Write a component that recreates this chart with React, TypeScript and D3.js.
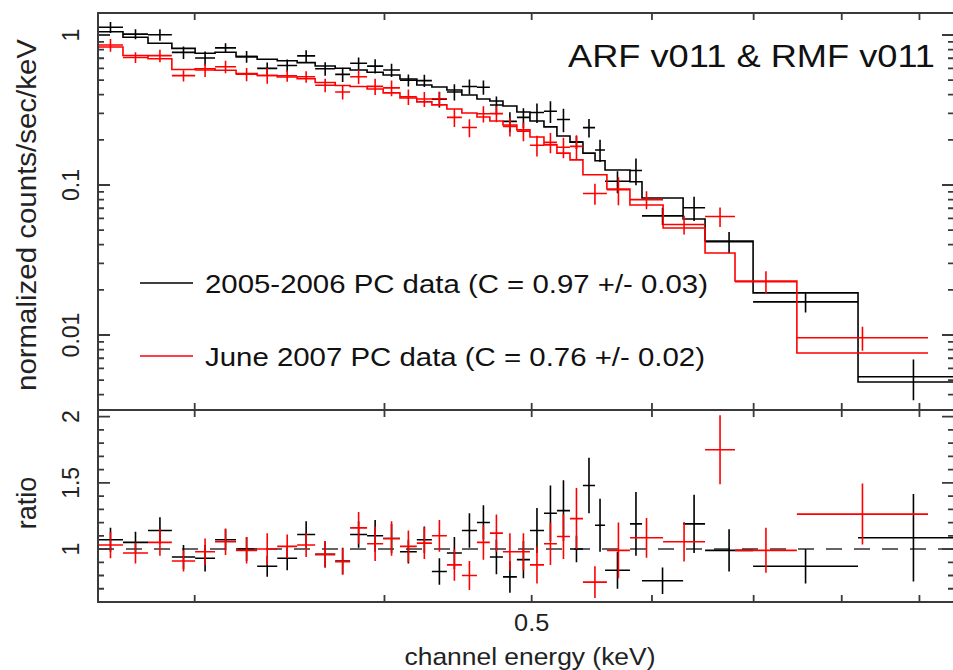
import React from 'react';
import * as d3 from 'd3';

const W = 953;
const H = 670;

// ---- data (energies in keV) ----
const blackEdges = [0.2591, 0.2691, 0.2795, 0.2898, 0.3002, 0.3094, 0.3194, 0.3298, 0.34, 0.3504, 0.3601, 0.3712, 0.3797, 0.3896, 0.3992, 0.4095, 0.4201, 0.4298, 0.4397, 0.4498, 0.4602, 0.4693, 0.4787, 0.4889, 0.4987, 0.5094, 0.5195, 0.5299, 0.5404, 0.5504, 0.5588, 0.5803, 0.591, 0.629, 0.6503, 0.6994, 0.82, 0.97];
const blackModel = [1.052, 0.965, 0.881, 0.815, 0.755, 0.767, 0.717, 0.689, 0.674, 0.654, 0.621, 0.6, 0.584, 0.564, 0.541, 0.509, 0.464, 0.45, 0.43, 0.398, 0.374, 0.363, 0.336, 0.307, 0.267, 0.244, 0.212, 0.193, 0.163, 0.145, 0.126, 0.105, 0.0819, 0.0593, 0.0423, 0.0191, 0.00486];
const blackRatio = [1.07, 1.05, 1.14, 0.94, 0.93, 1.07, 1.0, 0.87, 0.93, 1.11, 0.96, 0.91, 1.11, 1.1, 1.08, 0.98, 1.07, 0.83, 0.97, 1.14, 1.2, 0.94, 0.79, 0.92, 1.14, 1.27, 1.29, 1.0, 1.48, 1.18, 0.84, 1.19, 0.76, 1.19, 0.99, 0.87, 1.085];
const blackRatioErr = [0.09, 0.08, 0.1, 0.09, 0.1, 0.08, 0.09, 0.08, 0.09, 0.1, 0.1, 0.1, 0.1, 0.12, 0.11, 0.09, 0.1, 0.1, 0.12, 0.13, 0.13, 0.13, 0.12, 0.14, 0.17, 0.21, 0.23, 0.1, 0.21, 0.2, 0.14, 0.24, 0.1, 0.22, 0.16, 0.13, 0.33];

const redEdges = [0.2591, 0.2691, 0.2795, 0.2898, 0.3002, 0.3094, 0.3194, 0.3298, 0.34, 0.3504, 0.3601, 0.3712, 0.3797, 0.3896, 0.3992, 0.4095, 0.4201, 0.4298, 0.4397, 0.4498, 0.4602, 0.4693, 0.4787, 0.4889, 0.4987, 0.5094, 0.5195, 0.5299, 0.5404, 0.5604, 0.5803, 0.6102, 0.6503, 0.6805, 0.7474, 0.9118];
const redModel = [0.832, 0.73, 0.694, 0.589, 0.596, 0.582, 0.553, 0.537, 0.525, 0.511, 0.482, 0.461, 0.454, 0.437, 0.411, 0.38, 0.358, 0.342, 0.321, 0.302, 0.284, 0.267, 0.251, 0.233, 0.209, 0.185, 0.163, 0.147, 0.117, 0.094, 0.0736, 0.0517, 0.0352, 0.0229, 0.00759];
const redRatio = [1.03, 0.97, 1.05, 0.91, 0.98, 1.055, 0.99, 1.0, 1.02, 1.03, 0.96, 0.905, 1.16, 1.04, 1.08, 1.02, 1.045, 1.1, 0.88, 0.8, 1.05, 1.12, 0.98, 0.98, 0.88, 1.04, 1.095, 1.23, 0.75, 0.99, 1.085, 1.055, 1.75, 0.99, 1.264];
const redRatioErr = [0.1, 0.08, 0.1, 0.08, 0.1, 0.1, 0.1, 0.12, 0.09, 0.09, 0.1, 0.1, 0.12, 0.13, 0.13, 0.12, 0.12, 0.12, 0.12, 0.11, 0.13, 0.14, 0.14, 0.14, 0.14, 0.16, 0.17, 0.23, 0.12, 0.21, 0.15, 0.15, 0.26, 0.17, 0.23];

const xTicks = [0.3, 0.4, 0.5, 0.6, 0.7, 0.8, 0.9];
const xTickLabels = [{ v: 0.5, t: '0.5' }];
const yTopLabels = [{ v: 1, t: '1' }, { v: 0.1, t: '0.1' }, { v: 0.01, t: '0.01' }];
const yBotLabels = [{ v: 2, t: '2' }, { v: 1.5, t: '1.5' }, { v: 1, t: '1' }];

const seriesInfo = [
  { name: '2005-2006 PC data (C = 0.97 +/- 0.03)', color: '#000000' },
  { name: 'June 2007 PC data (C = 0.76 +/- 0.02)', color: '#ff0000' },
];

const FONT = "'Liberation Sans', Arial, Helvetica, sans-serif";

export default function App() {
  const L = 98, R = 954, T = 13, M = 410, B = 602;
  const x = d3.scaleLog().domain([0.2591, 0.9484]).range([L, R]);
  const yTop = d3.scaleLog().domain([0.0031623, 1.4017]).range([M, T]);
  const yBot = d3.scaleLinear().domain([0.6, 2.05]).range([B, M]);

  const frame = '#3a3a3a';
  const sets = [
    { edges: blackEdges, model: blackModel, ratio: blackRatio, err: blackRatioErr, color: seriesInfo[0].color },
    { edges: redEdges, model: redModel, ratio: redRatio, err: redRatioErr, color: seriesInfo[1].color },
  ];

  const step = d3.line<[number, number]>().x(d => d[0]).y(d => d[1]).curve(d3.curveStepAfter);

  const modelPath = (s: typeof sets[0]) => {
    const pts: [number, number][] = s.model.map((m, i) => [x(s.edges[i]), yTop(m)]);
    pts.push([x(s.edges[s.edges.length - 1]), yTop(s.model[s.model.length - 1])]);
    return step(pts) || '';
  };

  const crosses = (s: typeof sets[0], top: boolean) => {
    const segs: string[] = [];
    const yMin = top ? 0.0031623 : 0.6;
    s.ratio.forEach((r, i) => {
      const x0 = x(s.edges[i]);
      const x1 = x(s.edges[i + 1]);
      const xc = (x0 + x1) / 2;
      let v: number, lo: number, hi: number;
      if (top) {
        v = r * s.model[i];
        lo = Math.max((r - s.err[i]) * s.model[i], yMin);
        hi = (r + s.err[i]) * s.model[i];
        segs.push(`M${x0},${yTop(v)}H${x1}M${xc},${yTop(lo)}V${yTop(hi)}`);
      } else {
        v = r;
        lo = Math.max(r - s.err[i], yMin);
        hi = r + s.err[i];
        segs.push(`M${x0},${yBot(v)}H${x1}M${xc},${yBot(lo)}V${yBot(hi)}`);
      }
    });
    return segs.join('');
  };

  // ticks
  const ticks: string[] = [];
  xTicks.forEach(v => {
    const px = x(v);
    ticks.push(`M${px},${T}v7`);
    ticks.push(`M${px},${M}v-7`);
    ticks.push(`M${px},${M}v7`);
    ticks.push(`M${px},${B}v-7`);
  });
  for (let d = -3; d <= 0; d++) {
    for (let k = 1; k <= 9; k++) {
      const v = k * Math.pow(10, d);
      if (v < 0.0031623 || v > 1.4017) continue;
      const py = yTop(v);
      const len = k === 1 ? 12 : 6;
      ticks.push(`M${L},${py}h${len}`);
      ticks.push(`M${R},${py}h${-len}`);
    }
  }
  d3.range(6, 21).forEach(i => {
    const v = i / 10;
    const py = yBot(v);
    const major = i % 5 === 0;
    const len = major ? 12 : 6;
    ticks.push(`M${L},${py}h${len}`);
    ticks.push(`M${R},${py}h${-len}`);
  });

  return (
    <svg width={W} height={H} viewBox={`0 0 ${W} ${H}`}
      style={{ position: 'absolute', left: 0, top: 0, background: '#fff' }}
      fontFamily={FONT}>
      <defs>
        <clipPath id="clipTop"><rect x={L} y={T} width={R - L} height={M - T} /></clipPath>
        <clipPath id="clipBot"><rect x={L} y={M} width={R - L} height={B - M} /></clipPath>
      </defs>
      <rect x={0} y={0} width={W} height={H} fill="#fff" />

      {/* top panel */}
      <g clipPath="url(#clipTop)" fill="none" strokeWidth={1.6}>
        {sets.map((s, i) => (
          <g key={i} stroke={s.color}>
            <path d={modelPath(s)} />
            <path d={crosses(s, true)} />
          </g>
        ))}
      </g>

      {/* bottom panel */}
      <g clipPath="url(#clipBot)" fill="none" strokeWidth={1.6}>
        <line x1={L} x2={R} y1={yBot(1)} y2={yBot(1)} stroke="#333" strokeDasharray="16 12" />
        {sets.map((s, i) => (
          <path key={i} d={crosses(s, false)} stroke={s.color} />
        ))}
      </g>

      {/* frames and ticks */}
      <g fill="none" stroke={frame} strokeWidth={2}>
        <rect x={L} y={T} width={R - L} height={M - T} />
        <rect x={L} y={M} width={R - L} height={B - M} />
        <path d={ticks.join('')} strokeWidth={1.8} />
      </g>

      {/* legend */}
      <g>
        {seriesInfo.map((s, i) => {
          const ly = i === 0 ? 283 : 356;
          return (
            <g key={i}>
              <line x1={140} x2={193} y1={ly} y2={ly} stroke={s.color} strokeWidth={1.5} />
              <text x={205} y={ly + 10} fontSize={26.5} fill="#111" textLength={i === 0 ? 503 : 500} lengthAdjust="spacingAndGlyphs">{s.name}</text>
            </g>
          );
        })}
      </g>

      <text x={568} y={67} fontSize={32} fill="#111" textLength={367} lengthAdjust="spacingAndGlyphs">ARF v011 &amp; RMF v011</text>

      {/* axis tick labels */}
      {xTickLabels.map(d => (
        <text key={d.t} x={x(d.v)} y={631} fontSize={23} textAnchor="middle" fill="#222"
          transform={`translate(${x(d.v)},0) scale(1.1,1) translate(${-x(d.v)},0)`}>{d.t}</text>
      ))}
      <text x={530} y={665} fontSize={24} textAnchor="middle" fill="#222"
        transform={`translate(530,0) scale(1.1,1) translate(-530,0)`}>channel energy (keV)</text>

      {yTopLabels.map(d => (
        <text key={d.t} transform={`translate(79,${yTop(d.v)}) rotate(-90)`} fontSize={23} textAnchor="middle" fill="#222">{d.t}</text>
      ))}
      {yBotLabels.map(d => (
        <text key={d.t} transform={`translate(79,${yBot(d.v)}) rotate(-90)`} fontSize={23} textAnchor="middle" fill="#222">{d.t}</text>
      ))}
      <text transform={`translate(36,215) rotate(-90)`} fontSize={27} textAnchor="middle" fill="#222" textLength={352} lengthAdjust="spacingAndGlyphs">normalized counts/sec/keV</text>
      <text transform={`translate(36,503) rotate(-90)`} fontSize={27} textAnchor="middle" fill="#222">ratio</text>
    </svg>
  );
}
